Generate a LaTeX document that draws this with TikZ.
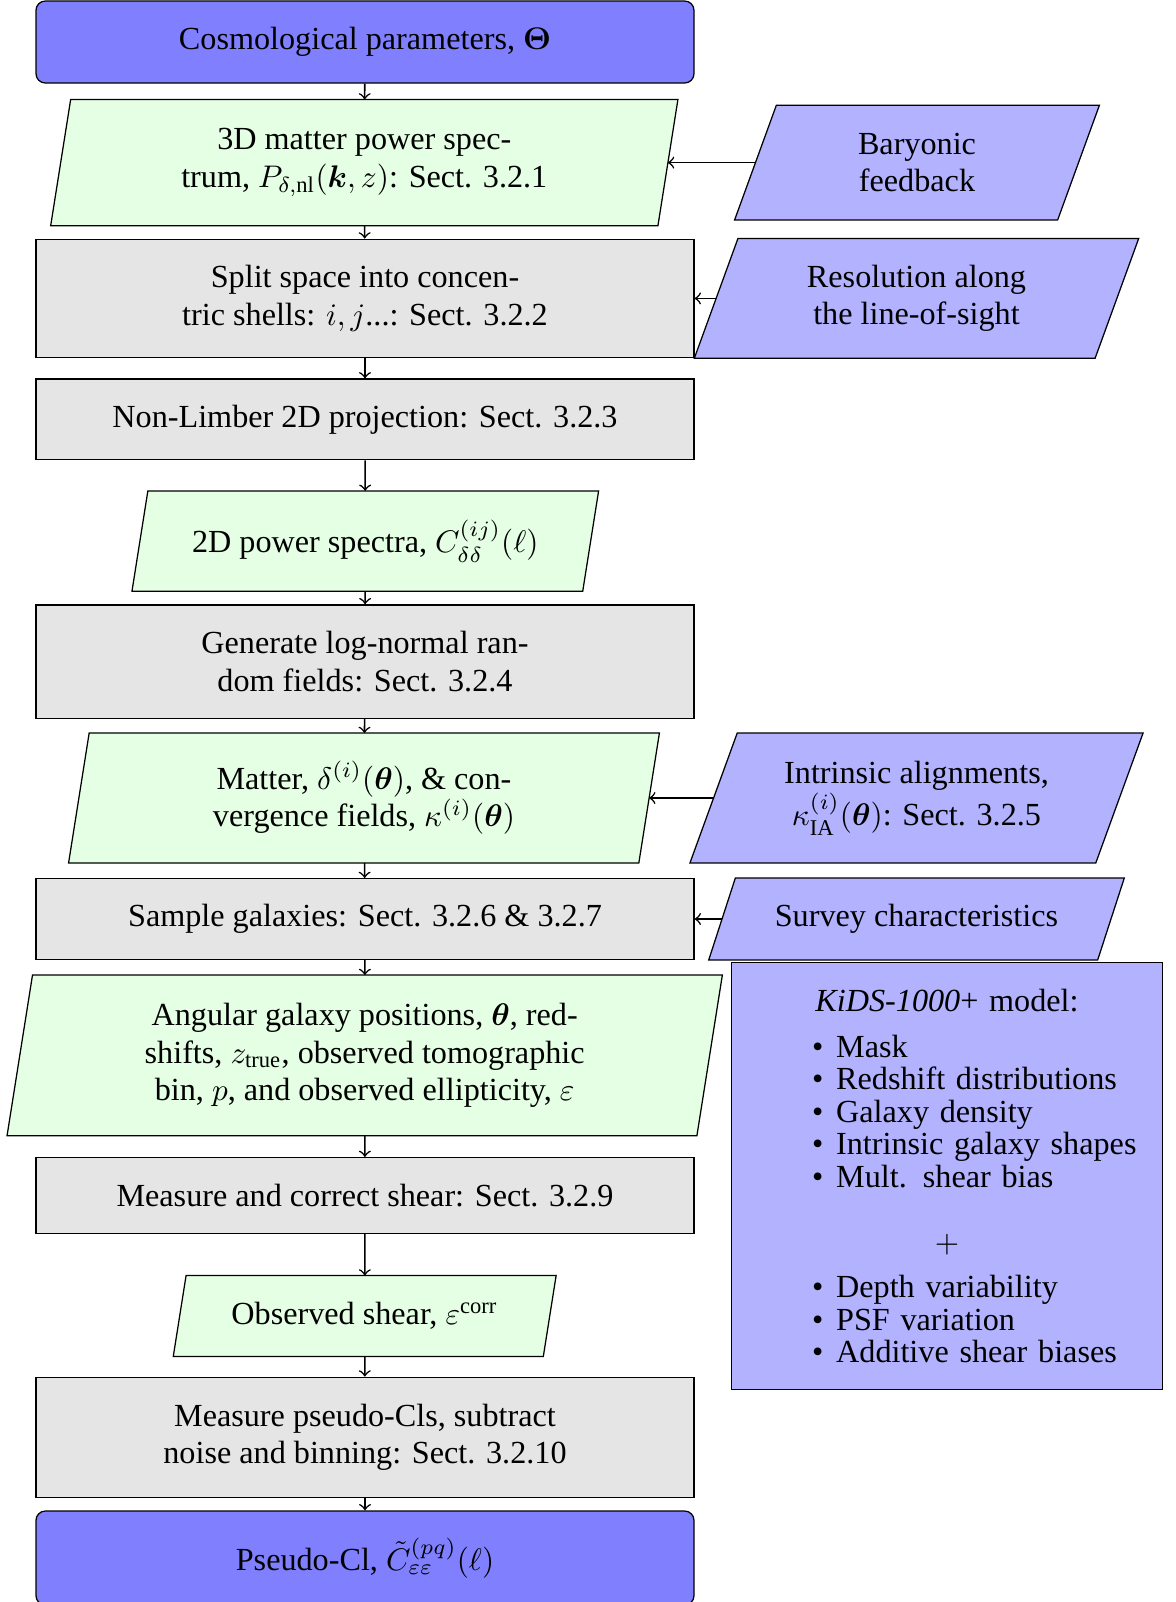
\documentclass[tikz,border=0pt]{standalone}
\usepackage{amsmath}
\usepackage{bm}
\usepackage{fontspec}
\setmainfont{Liberation Serif}
\usepackage{tikz, xcolor}
\usetikzlibrary{calc, backgrounds}
\newcommand{\pxunit}{0.32pt}
\newcommand{\slantframe}[3]{%
\draw[fill=#3] let \p1=(#1.north east), \p2=(#1.south west), \n1={0.5*(\y1-\y2)*cot(#2)} in
    (\x2-\n1,\y2) -- (\x1-\n1,\y2) -- (\x1+\n1,\y1) -- (\x2+\n1,\y1) -- cycle;}

\begin{document}
\begin{tikzpicture}
\useasboundingbox (0,0) rectangle (1176*\pxunit,-1602*\pxunit);
\tikzstyle{every node}=[align=center,
			font=\fontsize{10.3}{12}\selectfont,
			inner sep=0pt
			]
\tikzstyle{procbox}=[draw, rectangle, fill=gray!20, minimum width=658*\pxunit]
\tikzstyle{endbox}=[draw, rectangle, rounded corners=3pt, fill=blue!50, minimum width=658*\pxunit]
\tikzstyle{slantbox}=[rectangle]
\tikzstyle{flow}=[->, line width=0.5pt]


\node[endbox, minimum height=82*\pxunit] (cosmo) at (365*\pxunit,-42*\pxunit) {Cosmological parameters, $\bm{\Theta}$};

\node[slantbox, minimum width=606*\pxunit, minimum height=125*\pxunit] (pk3d) at (364.3*\pxunit,-162.6*\pxunit) {3D matter power spec-\\trum, $P_{\delta,\rm nl}(\bm{k},z)$: Sect. 3.2.1};

\node[procbox, minimum height=118.5*\pxunit] (split) at (365*\pxunit,-298.4*\pxunit) {Split space into concen-\\tric shells: $i,j$...: Sect. 3.2.2};

\node[procbox, minimum height=80.7*\pxunit] (nonlimber) at (365*\pxunit,-419.4*\pxunit) {Non-Limber 2D projection: Sect. 3.2.3};

\node[slantbox, minimum width=449.5*\pxunit, minimum height=99*\pxunit] (cl2d) at (365.3*\pxunit,-541*\pxunit) {2D power spectra, $C^{(ij)}_{\delta\delta}(\ell)$};

\node[procbox, minimum height=113.4*\pxunit] (lognormal) at (365*\pxunit,-661.6*\pxunit) {Generate log-normal ran-\\dom fields: Sect. 3.2.4};

\node[slantbox, minimum width=569*\pxunit, minimum height=128.7*\pxunit] (fields) at (364*\pxunit,-798*\pxunit) {Matter, $\delta^{(i)}(\bm{\theta})$, \& con-\\vergence fields, $\kappa^{(i)}(\bm{\theta})$};

\node[procbox, minimum height=80.7*\pxunit] (sample) at (365*\pxunit,-919*\pxunit) {Sample galaxies: Sect. 3.2.6 \& 3.2.7};

\node[slantbox, minimum width=688.6*\pxunit, minimum height=159.4*\pxunit] (angular) at (364.7*\pxunit,-1055.4*\pxunit) {Angular galaxy positions, $\bm{\theta}$, red-\\shifts, $z_{\rm true}$, observed tomographic\\bin, $p$, and observed ellipticity, $\varepsilon$};

\node[procbox, minimum height=75.6*\pxunit] (measure) at (365*\pxunit,-1195.4*\pxunit) {Measure and correct shear: Sect. 3.2.9};

\node[slantbox, minimum width=368.8*\pxunit, minimum height=79.7*\pxunit] (obsshear) at (364.7*\pxunit,-1316*\pxunit) {Observed shear, $\varepsilon^{\rm corr}$};

\node[procbox, minimum height=120.6*\pxunit] (pseudocl) at (365*\pxunit,-1437.5*\pxunit) {Measure pseudo-Cls, subtract\\noise and binning: Sect. 3.2.10};

\node[endbox, minimum height=94*\pxunit] (output) at (365*\pxunit,-1558*\pxunit) {Pseudo-Cl, $\tilde{C}^{(pq)}_{\varepsilon\varepsilon}(\ell)$};


\node[slantbox, minimum width=321.8*\pxunit, minimum height=113.4*\pxunit] (baryon) at (917*\pxunit,-162.6*\pxunit) {Baryonic\\feedback};

\node[slantbox, minimum width=399.5*\pxunit, minimum height=118.5*\pxunit] (resol) at (916.5*\pxunit,-298.4*\pxunit) {Resolution along\\the line-of-sight};

\node[slantbox, minimum width=404.6*\pxunit, minimum height=128.7*\pxunit] (intrinsic) at (916.5*\pxunit,-798*\pxunit) {Intrinsic alignments,\\$\kappa^{(i)}_{\rm IA}(\bm{\theta})$: Sect. 3.2.5};

\node[slantbox, minimum width=387.7*\pxunit, minimum height=80.7*\pxunit] (survey) at (916.5*\pxunit,-919*\pxunit) {Survey characteristics};

\node[draw, rectangle, fill=blue!30, align=left, text width=431*\pxunit, minimum height=427*\pxunit,
      font=\fontsize{10.3}{10.4}\selectfont] (kids) at (947*\pxunit,-1176*\pxunit) {%
\makebox[\linewidth]{\textit{KiDS-1000}+ model:}\\[4.3pt]
\hspace*{25.8pt}\makebox[7.7pt][l]{\textbullet}Mask\\
\hspace*{25.8pt}\makebox[7.7pt][l]{\textbullet}Redshift distributions\\
\hspace*{25.8pt}\makebox[7.7pt][l]{\textbullet}Galaxy density\\
\hspace*{25.8pt}\makebox[7.7pt][l]{\textbullet}Intrinsic galaxy shapes\\
\hspace*{25.8pt}\makebox[7.7pt][l]{\textbullet}Mult. shear bias\\[10.4pt]
\makebox[\linewidth]{$+$}\\[4.3pt]
\hspace*{25.8pt}\makebox[7.7pt][l]{\textbullet}Depth variability\\
\hspace*{25.8pt}\makebox[7.7pt][l]{\textbullet}PSF variation\\
\hspace*{25.8pt}\makebox[7.7pt][l]{\textbullet}Additive shear biases};

% slanted frames behind the data and input nodes
\begin{scope}[on background layer]
\slantframe{pk3d}{81}{green!10}
\slantframe{cl2d}{81}{green!10}
\slantframe{fields}{81}{green!10}
\slantframe{angular}{81}{green!10}
\slantframe{obsshear}{81}{green!10}
\slantframe{baryon}{70}{blue!30}
\slantframe{resol}{70}{blue!30}
\slantframe{intrinsic}{70}{blue!30}
\slantframe{survey}{72}{blue!30}
\end{scope}


\draw[flow] (cosmo) -- (pk3d);
\draw[flow] (pk3d) -- (split);
\draw[flow] (split) -- (nonlimber);
\draw[flow] (nonlimber) -- (cl2d);
\draw[flow] (cl2d) -- (lognormal);
\draw[flow] (lognormal) -- (fields);
\draw[flow] (fields) -- (sample);
\draw[flow] (sample) -- (angular);
\draw[flow] (angular) -- (measure);
\draw[flow] (measure) -- (obsshear);
\draw[flow] (obsshear) -- (pseudocl);
\draw[flow] (pseudocl) -- (output);

\draw[flow] (baryon.west) -- (pk3d.east);
\draw[flow] (resol.west) -- (split.east);
\draw[flow] (intrinsic.west) -- (fields.east);
\draw[flow] (survey.west) -- (sample.east);

\end{tikzpicture}
\end{document}
